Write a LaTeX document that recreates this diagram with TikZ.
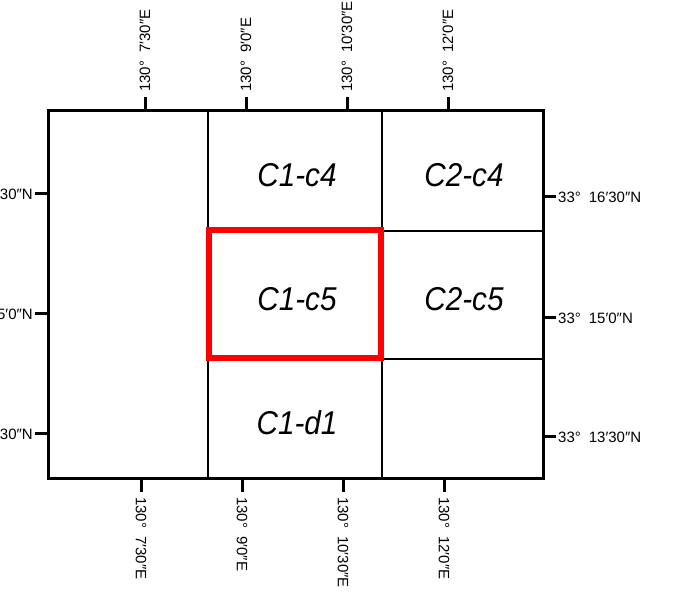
\documentclass[tikz,border=0pt]{standalone}
\usepackage{fontspec}
\setmainfont{Liberation Sans}
\newcommand{\cellname}[1]{\scalebox{0.9}[1]{#1}}
\begin{document}
\begin{tikzpicture}[x=1pt, y=-1pt,
	frame/.style={line width=3pt},
	gridline/.style={line width=2.5pt},
	tick/.style={line width=3pt},
	coordlbl/.style={font=\fontsize{15}{17}\selectfont, inner sep=0pt},
	cell/.style={font=\fontsize{33}{35}\selectfont\itshape, inner sep=0pt},
	redbox/.style={draw=red, line width=6pt}]

	\useasboundingbox (0,0) rectangle (691,601);

	% sheet outline and grid
	\draw[frame] (48,111) rectangle (543,478);
	\draw[gridline] (208,111) -- (208,478);
	\draw[gridline] (382,111) -- (382,478);
	\draw[line width=2pt] (382,231) -- (543,231);
	\draw[line width=2pt] (382,359) -- (543,359);

	\draw[redbox] (209,230) rectangle (381,358);

	% sheet names
	\node[cell] (c1c4) at (297,175) {\cellname{C1-c4}};
	\node[cell] (c2c4) at (464,175) {\cellname{C2-c4}};
	\node[cell] (c1c5) at (297,299) {\cellname{C1-c5}};
	\node[cell] (c2c5) at (464,299) {\cellname{C2-c5}};
	\node[cell] (c1d1) at (297,423) {\cellname{C1-d1}};

	% top ticks
	\node[coordlbl, rotate=90, anchor=west] (te1) at (145,92) {130°\hspace{8pt}7′30″E};
	\draw[tick] (145,111) -- (145,97);
	\node[coordlbl, rotate=90, anchor=west] (te2) at (246,92) {130°\hspace{8pt}9′0″E};
	\draw[tick] (246,111) -- (246,97);
	\node[coordlbl, rotate=90, anchor=west] (te3) at (347,92) {130°\hspace{8pt}10′30″E};
	\draw[tick] (347,111) -- (347,97);
	\node[coordlbl, rotate=90, anchor=west] (te4) at (448,92) {130°\hspace{8pt}12′0″E};
	\draw[tick] (448,111) -- (448,97);

	% bottom ticks
	\node[coordlbl, rotate=-90, anchor=west] (be1) at (141,497) {130°\hspace{8pt}7′30″E};
	\draw[tick] (141,478) -- (141,492);
	\node[coordlbl, rotate=-90, anchor=west] (be2) at (242,497) {130°\hspace{8pt}9′0″E};
	\draw[tick] (242,478) -- (242,492);
	\node[coordlbl, rotate=-90, anchor=west] (be3) at (343,497) {130°\hspace{8pt}10′30″E};
	\draw[tick] (343,478) -- (343,492);
	\node[coordlbl, rotate=-90, anchor=west] (be4) at (444,497) {130°\hspace{8pt}12′0″E};
	\draw[tick] (444,478) -- (444,492);

	% right ticks
	\node[coordlbl, anchor=west] (rn1) at (558,197) {33°\hspace{8pt}16′30″N};
	\draw[tick] (543,197) -- (556,197);
	\node[coordlbl, anchor=west] (rn2) at (558,318) {33°\hspace{8pt}15′0″N};
	\draw[tick] (543,318) -- (556,318);
	\node[coordlbl, anchor=west] (rn3) at (558,437) {33°\hspace{8pt}13′30″N};
	\draw[tick] (543,437) -- (556,437);

	% left ticks
	\node[coordlbl, anchor=east] (ln1) at (33,194) {33°\hspace{8pt}16′30″N};
	\draw[tick] (48,194) -- (35,194);
	\node[coordlbl, anchor=east] (ln2) at (33,314) {33°\hspace{8pt}15′0″N};
	\draw[tick] (48,314) -- (35,314);
	\node[coordlbl, anchor=east] (ln3) at (33,434) {33°\hspace{8pt}13′30″N};
	\draw[tick] (48,434) -- (35,434);

\end{tikzpicture}
\end{document}
